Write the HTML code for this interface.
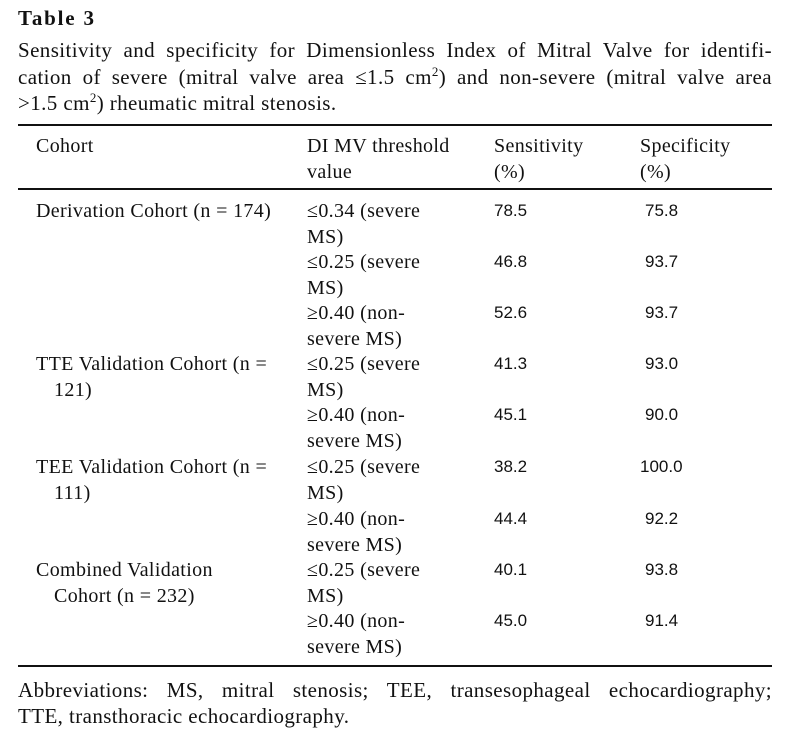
<!DOCTYPE html>
<html><head><meta charset="utf-8"><style>
body{margin:0;width:798px;height:739px;background:#fff;position:relative;overflow:hidden;font-family:"Liberation Serif",serif;color:#111;}
.a{position:absolute;white-space:nowrap;font-size:20px;letter-spacing:0.35px;line-height:26px;}
.c{position:absolute;left:18px;width:754px;font-size:21px;letter-spacing:0.4px;line-height:26px;white-space:nowrap;}
.j{text-align:justify;text-align-last:justify;}
.n{font-family:"Liberation Sans",sans-serif;font-size:17px;letter-spacing:0;}
.r{position:absolute;left:18px;width:754px;background:#111;}
.i{margin-left:18px;}
sup{font-size:13px;line-height:0;}
</style></head><body>
<div class="c" style="top:5px;font-weight:bold;letter-spacing:1.8px;">Table 3</div>
<div class="c j" style="top:37px;">Sensitivity and specificity for Dimensionless Index of Mitral Valve for identifi-</div>
<div class="c j" style="top:64px;">cation of severe (mitral valve area ≤1.5 cm<sup>2</sup>) and non-severe (mitral valve area</div>
<div class="c" style="top:90px;">&gt;1.5 cm<sup>2</sup>) rheumatic mitral stenosis.</div>
<div class="r" style="top:124px;height:2px;"></div>
<div class="a" style="left:36px;top:133px;">Cohort</div>
<div class="a" style="left:307px;top:133px;">DI MV threshold<br>value</div>
<div class="a" style="left:494px;top:133px;">Sensitivity<br>(%)</div>
<div class="a" style="left:640px;top:133px;">Specificity<br>(%)</div>
<div class="r" style="top:188px;height:2px;"></div>

<div class="a" style="left:36px;top:198px;">Derivation Cohort (n = 174)</div>
<div class="a" style="left:307px;top:198px;">≤0.34 (severe<br>MS)</div>
<div class="a n" style="left:494px;top:198px;">78.5</div><div class="a n" style="left:645px;top:198px;">75.8</div>
<div class="a" style="left:307px;top:249px;">≤0.25 (severe<br>MS)</div>
<div class="a n" style="left:494px;top:249px;">46.8</div><div class="a n" style="left:645px;top:249px;">93.7</div>
<div class="a" style="left:307px;top:300px;">≥0.40 (non-<br>severe MS)</div>
<div class="a n" style="left:494px;top:300px;">52.6</div><div class="a n" style="left:645px;top:300px;">93.7</div>

<div class="a" style="left:36px;top:351px;">TTE Validation Cohort (n =<br><span class="i">121)</span></div>
<div class="a" style="left:307px;top:351px;">≤0.25 (severe<br>MS)</div>
<div class="a n" style="left:494px;top:351px;">41.3</div><div class="a n" style="left:645px;top:351px;">93.0</div>
<div class="a" style="left:307px;top:402px;">≥0.40 (non-<br>severe MS)</div>
<div class="a n" style="left:494px;top:402px;">45.1</div><div class="a n" style="left:645px;top:402px;">90.0</div>

<div class="a" style="left:36px;top:454px;">TEE Validation Cohort (n =<br><span class="i">111)</span></div>
<div class="a" style="left:307px;top:454px;">≤0.25 (severe<br>MS)</div>
<div class="a n" style="left:494px;top:454px;">38.2</div><div class="a n" style="left:640px;top:454px;">100.0</div>
<div class="a" style="left:307px;top:506px;">≥0.40 (non-<br>severe MS)</div>
<div class="a n" style="left:494px;top:506px;">44.4</div><div class="a n" style="left:645px;top:506px;">92.2</div>

<div class="a" style="left:36px;top:557px;">Combined Validation<br><span class="i">Cohort (n = 232)</span></div>
<div class="a" style="left:307px;top:557px;">≤0.25 (severe<br>MS)</div>
<div class="a n" style="left:494px;top:557px;">40.1</div><div class="a n" style="left:645px;top:557px;">93.8</div>
<div class="a" style="left:307px;top:608px;">≥0.40 (non-<br>severe MS)</div>
<div class="a n" style="left:494px;top:608px;">45.0</div><div class="a n" style="left:645px;top:608px;">91.4</div>

<div class="r" style="top:665px;height:2px;"></div>
<div class="c j" style="top:677px;">Abbreviations: MS, mitral stenosis; TEE, transesophageal echocardiography;</div>
<div class="c" style="top:703px;">TTE, transthoracic echocardiography.</div>
</body></html>
